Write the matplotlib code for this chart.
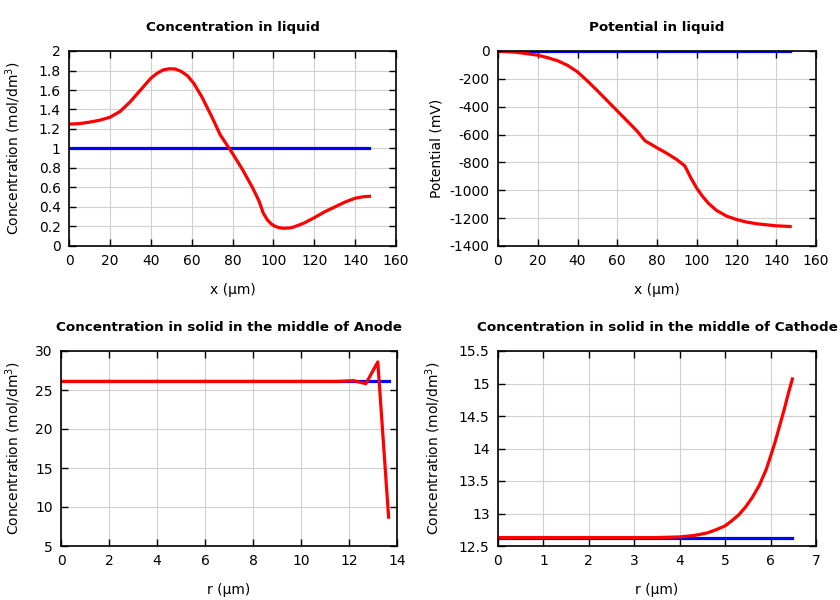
import matplotlib
matplotlib.use("Agg")
import matplotlib.pyplot as plt
from matplotlib.ticker import StrMethodFormatter, MultipleLocator

plt.rcParams['font.family'] = ['DejaVu Sans']
plt.rcParams['axes.unicode_minus'] = False

# Concentration in liquid
liq_x = [0, 5, 10, 15, 20, 25, 30, 35, 40, 43, 46, 49, 52, 55, 58, 61, 65, 70, 74, 80,
         85, 90, 93, 95, 97, 99, 101, 103, 105, 108, 110, 115, 120, 125, 130, 135, 140,
         144, 147]
liq_c = [1.25, 1.255, 1.27, 1.29, 1.32, 1.38, 1.48, 1.60, 1.72, 1.77, 1.805, 1.818,
         1.815, 1.79, 1.745, 1.67, 1.53, 1.32, 1.14, 0.95, 0.78, 0.59, 0.46, 0.34, 0.27,
         0.225, 0.2, 0.187, 0.182, 0.185, 0.195, 0.235, 0.29, 0.35, 0.40, 0.45, 0.49,
         0.505, 0.51]
liq_c0 = [1.0, 1.0]
liq_x0 = [0, 147]

# Potential in liquid
pot_x = [0, 10, 20, 25, 30, 35, 40, 45, 50, 60, 70, 74, 80, 85, 90, 94, 97, 100, 103,
         106, 110, 115, 120, 125, 130, 140, 147]
pot_v = [0, -10, -30, -48, -70, -103, -150, -215, -285, -430, -575, -645, -695, -735,
         -780, -825, -910, -985, -1045, -1095, -1145, -1185, -1210, -1228, -1240,
         -1255, -1260]
pot_v0 = [0, 0]
pot_x0 = [0, 147]

# Concentration in solid, anode
an_r = [0, 11.5, 12.2, 12.7, 13.2, 13.65]
an_c = [26.1, 26.1, 26.2, 25.8, 28.6, 8.7]
an_c0 = [26.1, 26.1]
an_r0 = [0, 13.65]

# Concentration in solid, cathode
ca_r = [0, 3.5, 4.0, 4.3, 4.6, 4.8, 5.0, 5.15, 5.3, 5.45, 5.6, 5.75, 5.9, 6.0, 6.1,
        6.2, 6.3, 6.4, 6.48]
ca_c = [12.63, 12.63, 12.64, 12.66, 12.70, 12.75, 12.81, 12.89, 12.98, 13.1, 13.25,
        13.43, 13.67, 13.88, 14.1, 14.35, 14.6, 14.87, 15.07]
ca_c0 = [12.63, 12.63]
ca_r0 = [0, 6.48]

W, H = 840, 600
fig = plt.figure(figsize=(8.4, 6.0), dpi=100)


def make_ax(l, r, t, b):
    return fig.add_axes([l / W, 1 - b / H, (r - l) / W, (b - t) / H])


def style(ax, title, xlabel, ylabel, xl, yl, ylx, xly, xt, yt):
    ax.set_title(title, fontsize=9.7, fontweight='bold', pad=14.5)
    ax.set_xlim(*xl)
    ax.set_ylim(*yl)
    ax.xaxis.set_major_locator(MultipleLocator(xt))
    ax.yaxis.set_major_locator(MultipleLocator(yt))
    ax.xaxis.set_major_formatter(StrMethodFormatter('{x:g}'))
    ax.yaxis.set_major_formatter(StrMethodFormatter('{x:g}'))
    ax.tick_params(direction='in', length=5, top=True, right=True, labelsize=10,
                   pad=6, width=1)
    ax.grid(True, color='#d0d0d0', linewidth=0.8)
    ax.set_axisbelow(True)
    for s in ax.spines.values():
        s.set_linewidth(1.2)
    ax.set_xlabel(xlabel, fontsize=10)
    ax.set_ylabel(ylabel, fontsize=10)
    bb = ax.get_position()
    ax.xaxis.set_label_coords((bb.x0 + bb.x1) / 2, 1 - xly / H, transform=fig.transFigure)
    ax.yaxis.set_label_coords(ylx / W, (bb.y0 + bb.y1) / 2, transform=fig.transFigure)


lw = 2.3
ylab_c = 'Concentration (mol/dm$^3$)'

ax1 = make_ax(69, 396, 51, 246)
ax1.plot(liq_x0, liq_c0, color='#0000ff', lw=lw)
ax1.plot(liq_x, liq_c, color='#ff0000', lw=lw)
style(ax1, 'Concentration in liquid', 'x (µm)', ylab_c, (0, 160), (0, 2), 23, 283, 20, 0.2)

ax2 = make_ax(498, 816, 51, 246)
ax2.plot(pot_x0, pot_v0, color='#0000ff', lw=lw)
ax2.plot(pot_x, pot_v, color='#ff0000', lw=lw)
style(ax2, 'Potential in liquid', 'x (µm)', 'Potential (mV)', (0, 160), (-1400, 0), 443, 283, 20, 200)

ax3 = make_ax(61, 397, 351, 546)
ax3.plot(an_r0, an_c0, color='#0000ff', lw=lw)
ax3.plot(an_r, an_c, color='#ff0000', lw=lw)
style(ax3, 'Concentration in solid in the middle of Anode', 'r (µm)', ylab_c, (0, 14), (5, 30), 23, 583, 2, 5)

ax4 = make_ax(498, 816, 351, 546)
ax4.plot(ca_r0, ca_c0, color='#0000ff', lw=lw)
ax4.plot(ca_r, ca_c, color='#ff0000', lw=lw)
style(ax4, 'Concentration in solid in the middle of Cathode', 'r (µm)', ylab_c, (0, 7), (12.5, 15.5), 443, 583, 1, 0.5)

fig.savefig('out.png', dpi=100)
